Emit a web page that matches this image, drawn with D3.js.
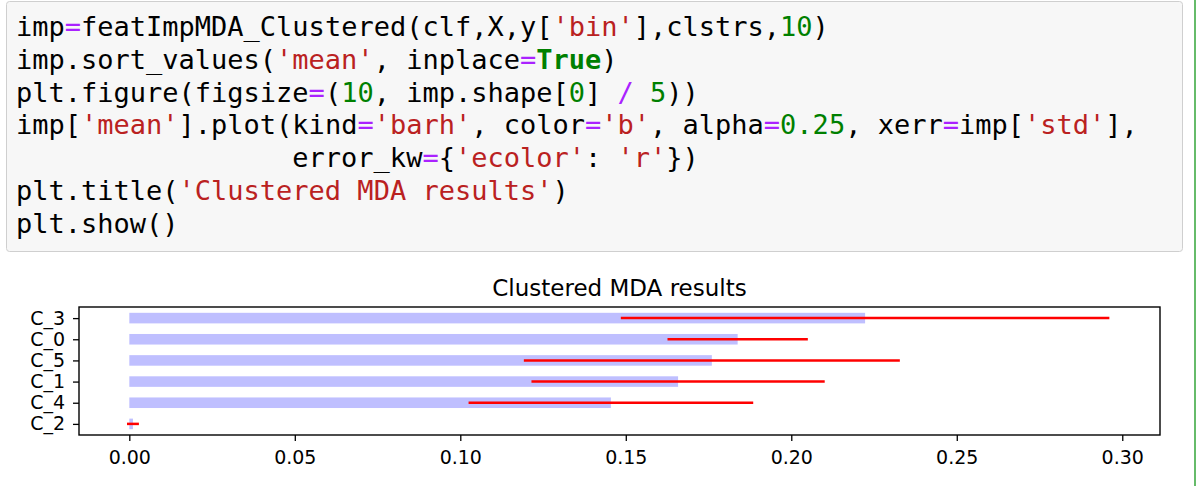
<!DOCTYPE html>
<html>
<head>
<meta charset="utf-8">
<script src="https://cdn.jsdelivr.net/npm/d3@7/dist/d3.min.js"></script>
<style>
  html, body { margin: 0; padding: 0; background: #ffffff; }
  svg { display: block; }
</style>
</head>
<body>
<svg id="chart" width="1200" height="486"></svg>
<script>
// ---- Data ----
const categories = ["C_2", "C_4", "C_1", "C_5", "C_0", "C_3"];   // bottom to top
const meanValues = [0.0011, 0.1455, 0.1658, 0.1760, 0.1838, 0.2223];
const stdValues  = [0.0018, 0.0430, 0.0443, 0.0568, 0.0212, 0.0738];
const xTickValues = [0.00, 0.05, 0.10, 0.15, 0.20, 0.25, 0.30];
const chartTitle = "Clustered MDA results";

// ---- Code cell text (token, kind) ----
const codeLines = [
  [["imp","t"],["=","op"],["featImpMDA_Clustered(clf,X,y[","t"],["'bin'","s"],["],clstrs,","t"],["10","n"],[")","t"]],
  [["imp.sort_values(","t"],["'mean'","s"],[", inplace","t"],["=","op"],["True","k"],[")","t"]],
  [["plt.figure(figsize","t"],["=","op"],["(","t"],["10","n"],[", imp.shape[","t"],["0","n"],["] ","t"],["/","op"],[" ","t"],["5","n"],["))","t"]],
  [["imp[","t"],["'mean'","s"],["].plot(kind","t"],["=","op"],["'barh'","s"],[", color","t"],["=","op"],["'b'","s"],[", alpha","t"],["=","op"],["0.25","n"],[", xerr","t"],["=","op"],["imp[","t"],["'std'","s"],["],","t"]],
  [["                 error_kw","t"],["=","op"],["{","t"],["'ecolor'","s"],[": ","t"],["'r'","s"],["})","t"]],
  [["plt.title(","t"],["'Clustered MDA results'","s"],[")","t"]],
  [["plt.show()","t"]]
];
const tokenColor = { t: "#000000", op: "#aa22ff", s: "#ba2121", n: "#008000", k: "#008000" };

const svg = d3.select("#chart");

// ---- Notebook cell background ----
svg.append("rect")
  .attr("x", 6.5).attr("y", 1.5).attr("width", 1176).attr("height", 250)
  .attr("rx", 3).attr("ry", 3)
  .attr("fill", "#f7f7f7").attr("stroke", "#cfcfcf").attr("stroke-width", 1);

// selected-cell green bar on the right
svg.append("line")
  .attr("x1", 1195).attr("x2", 1195).attr("y1", 0).attr("y2", 486)
  .attr("stroke", "#66bb6a").attr("stroke-width", 2);

const code = svg.append("g")
  .attr("font-family", "'DejaVu Sans Mono', monospace")
  .attr("font-size", 27);

code.selectAll("text.line")
  .data(codeLines)
  .join("text")
  .attr("class", "line")
  .attr("x", 16)
  .attr("y", (d, i) => 36 + i * 32.8)
  .attr("xml:space", "preserve")
  .style("white-space", "pre")
  .selectAll("tspan")
  .data(d => d)
  .join("tspan")
  .attr("fill", d => tokenColor[d[1]])
  .attr("font-weight", d => d[1] === "k" ? "bold" : "normal")
  .text(d => d[0]);

// ---- Chart ----
const axLeft = 79, axRight = 1160, axTop = 307, axBottom = 435;

const x = d3.scaleLinear().domain([-0.0152, 0.3114]).range([axLeft, axRight]);
const y = d3.scaleLinear().domain([-0.525, categories.length - 1 + 0.525]).range([axBottom, axTop]);
const barH = y(0) - y(0.5);

const data = categories.map((c, i) => ({ c, i, m: meanValues[i], s: stdValues[i] }));

const plot = svg.append("g");

plot.selectAll("rect.bar")
  .data(data)
  .join("rect")
  .attr("class", "bar")
  .attr("x", d => x(0))
  .attr("y", d => y(d.i) - barH / 2)
  .attr("width", d => x(d.m) - x(0))
  .attr("height", barH)
  .attr("fill", "#0000ff")
  .attr("fill-opacity", 0.25);

plot.selectAll("line.err")
  .data(data)
  .join("line")
  .attr("class", "err")
  .attr("x1", d => x(d.m - d.s))
  .attr("x2", d => x(d.m + d.s))
  .attr("y1", d => y(d.i))
  .attr("y2", d => y(d.i))
  .attr("stroke", "#ff0000")
  .attr("stroke-width", 2.5);

// axes
const xAxis = d3.axisBottom(x).tickValues(xTickValues).tickFormat(d3.format(".2f")).tickSize(6).tickPadding(8);
const yAxis = d3.axisLeft(y).tickValues(d3.range(categories.length)).tickFormat(i => categories[i]).tickSize(6).tickPadding(8);

const gx = svg.append("g").attr("transform", `translate(0,${axBottom})`).call(xAxis);
const gy = svg.append("g").attr("transform", `translate(${axLeft},0)`).call(yAxis);

[gx, gy].forEach(g => {
  g.select(".domain").remove();
  g.selectAll(".tick line").attr("stroke", "#000").attr("stroke-width", 1.3);
  g.selectAll(".tick text")
    .attr("fill", "#000")
    .attr("font-family", "'DejaVu Sans', sans-serif")
    .attr("font-size", 19);
});
gx.selectAll(".tick text").attr("y", 29).attr("dy", 0);

// frame
svg.append("rect")
  .attr("x", axLeft).attr("y", axTop).attr("width", axRight - axLeft).attr("height", axBottom - axTop)
  .attr("fill", "none").attr("stroke", "#000").attr("stroke-width", 1.4);

// title
svg.append("text")
  .attr("x", (axLeft + axRight) / 2)
  .attr("y", 296)
  .attr("text-anchor", "middle")
  .attr("font-family", "'DejaVu Sans', sans-serif")
  .attr("font-size", 23)
  .attr("fill", "#000")
  .text(chartTitle);
</script>
</body>
</html>
